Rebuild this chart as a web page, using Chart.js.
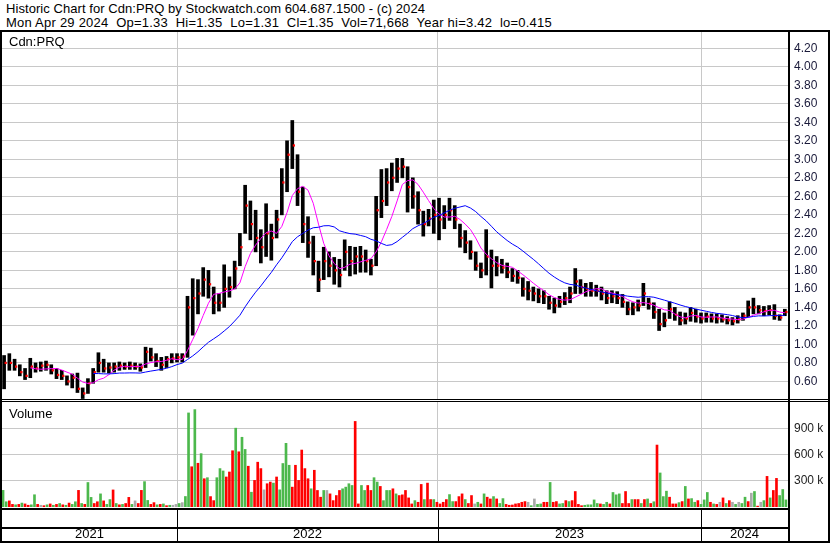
<!DOCTYPE html>
<html>
<head>
<meta charset="utf-8">
<script src="https://cdn.jsdelivr.net/npm/chart.js@4.4.1/dist/chart.umd.min.js"></script>
<style>
  body { margin: 0; background: #fff; }
  #wrap { position: relative; width: 830px; height: 543px; overflow: hidden; font-family: 'Liberation Sans', Arial, sans-serif; }
  .txt { position: absolute; font-size: 13px; line-height: 15px; color: #000; white-space: pre; }
  .ln { position: absolute; background: #000; }
  canvas { position: absolute; }
</style>
</head>
<body>
<div id="wrap">
  <div class="txt" id="head1" style="left:6px; top:1px;">Historic Chart for Cdn:PRQ by Stockwatch.com 604.687.1500 - (c) 2024</div>
  <div class="txt" id="head2" style="left:6px; top:15px;">Mon Apr 29 2024  Op=1.33  Hi=1.35  Lo=1.31  Cl=1.35  Vol=71,668  Year hi=3.42  lo=0.415</div>

  <canvas id="price" width="828" height="367" style="left:2px; top:32px;"></canvas>
  <canvas id="volume" width="828" height="141" style="left:2px; top:402px;"></canvas>

  <div class="txt" style="left:9px; top:34px;">Cdn:PRQ</div>
  <div class="txt" style="left:9px; top:406px;">Volume</div>

  <div class="ln" style="left:0; top:30px; width:830px; height:2px;"></div>
  <div class="ln" style="left:0; top:30px; width:2px; height:513px;"></div>
  <div class="ln" style="left:828px; top:30px; width:2px; height:513px;"></div>
  <div class="ln" style="left:788px; top:30px; width:2px; height:513px;"></div>
  <div class="ln" style="left:0; top:399px; width:830px; height:1px;"></div>
  <div class="ln" style="left:0; top:401px; width:830px; height:1px;"></div>
  <div class="ln" style="left:0; top:541px; width:830px; height:2px;"></div>
</div>

<script>
// x axis is trading-day index, 0 .. 750
const yearLabels = ['2021', '2022', '2023', '2024'];
const yearStarts = [0, 167, 416, 667, 750];

const priceTicks = [0.6, 0.8, 1.0, 1.2, 1.4, 1.6, 1.8, 2.0, 2.2, 2.4, 2.6, 2.8, 3.0, 3.2, 3.4, 3.6, 3.8, 4.0, 4.2];
const volTicks = [300000, 600000, 900000];

// weekly high / low / close (5 trading days each)
const weekHigh = [
  0.88, 0.90, 0.84, 0.78, 0.74, 0.85, 0.80, 0.81, 0.82, 0.78,
  0.74, 0.72, 0.66, 0.68, 0.69, 0.53, 0.63, 0.74, 0.91, 0.84,
  0.80, 0.80, 0.81, 0.80, 0.81, 0.80, 0.79, 0.97, 0.96, 0.90,
  0.86, 0.87, 0.90, 0.90, 0.90, 1.52, 1.71, 1.70, 1.83, 1.80,
  1.62, 1.55, 1.86, 1.73, 1.90, 2.20, 2.72, 2.55, 2.45, 2.24,
  2.52, 2.30, 2.45, 2.90, 3.20, 3.42, 3.05, 2.70, 2.38, 2.17,
  1.90, 2.05, 2.00, 1.94, 1.92, 2.13, 2.06, 2.05, 2.06, 2.02,
  1.92, 2.60, 2.89, 2.90, 2.96, 3.01, 3.01, 2.92, 2.80, 2.65,
  2.44, 2.46, 2.56, 2.58, 2.50, 2.58, 2.50, 2.30, 2.23, 2.12,
  2.00, 1.88, 2.24, 2.02, 1.95, 1.92, 1.88, 1.82, 1.80, 1.72,
  1.68, 1.62, 1.60, 1.58, 1.52, 1.50, 1.52, 1.56, 1.62, 1.82,
  1.70, 1.66, 1.67, 1.64, 1.62, 1.58, 1.58, 1.57, 1.54, 1.46,
  1.45, 1.48, 1.66, 1.50, 1.45, 1.38, 1.34, 1.46, 1.40, 1.35,
  1.34, 1.40, 1.38, 1.34, 1.34, 1.33, 1.33, 1.32, 1.30, 1.29,
  1.31, 1.34, 1.47, 1.50, 1.42, 1.41, 1.42, 1.43, 1.32, 1.38
];
const weekLow = [
  0.52, 0.72, 0.72, 0.66, 0.62, 0.64, 0.70, 0.71, 0.72, 0.68,
  0.63, 0.62, 0.56, 0.53, 0.48, 0.415, 0.47, 0.58, 0.70, 0.70,
  0.69, 0.70, 0.72, 0.73, 0.73, 0.73, 0.71, 0.75, 0.82, 0.76,
  0.72, 0.75, 0.80, 0.81, 0.81, 0.86, 1.10, 1.33, 1.52, 1.50,
  1.33, 1.36, 1.40, 1.51, 1.60, 1.85, 2.20, 2.13, 2.00, 1.88,
  1.95, 1.91, 2.15, 2.40, 2.65, 2.90, 2.50, 2.10, 1.94, 1.75,
  1.57, 1.70, 1.73, 1.65, 1.62, 1.80, 1.74, 1.76, 1.78, 1.78,
  1.75, 1.85, 2.37, 2.50, 2.66, 2.75, 2.80, 2.43, 2.47, 2.30,
  2.17, 2.28, 2.20, 2.13, 2.25, 2.34, 2.25, 2.05, 1.99, 1.92,
  1.80, 1.72, 1.75, 1.61, 1.74, 1.77, 1.72, 1.68, 1.66, 1.52,
  1.48, 1.47, 1.45, 1.44, 1.38, 1.34, 1.40, 1.43, 1.45, 1.55,
  1.55, 1.52, 1.52, 1.52, 1.48, 1.44, 1.45, 1.44, 1.40, 1.32,
  1.32, 1.36, 1.42, 1.38, 1.28, 1.15, 1.19, 1.28, 1.26, 1.21,
  1.22, 1.25, 1.24, 1.23, 1.24, 1.24, 1.23, 1.24, 1.22, 1.21,
  1.23, 1.26, 1.30, 1.33, 1.33, 1.31, 1.32, 1.27, 1.26, 1.31
];
const weekClose = [
  0.80, 0.80, 0.76, 0.70, 0.66, 0.76, 0.74, 0.77, 0.78, 0.72,
  0.67, 0.66, 0.60, 0.64, 0.52, 0.47, 0.58, 0.70, 0.80, 0.74,
  0.75, 0.76, 0.77, 0.76, 0.77, 0.76, 0.75, 0.92, 0.86, 0.82,
  0.78, 0.84, 0.85, 0.86, 0.87, 1.40, 1.50, 1.55, 1.70, 1.65,
  1.45, 1.45, 1.60, 1.62, 1.82, 2.05, 2.50, 2.30, 2.15, 2.05,
  2.20, 2.15, 2.35, 2.75, 3.05, 3.15, 2.65, 2.30, 2.10, 1.90,
  1.70, 1.90, 1.85, 1.80, 1.75, 2.00, 1.90, 1.95, 1.95, 1.90,
  1.85, 2.45, 2.55, 2.75, 2.80, 2.90, 2.92, 2.70, 2.60, 2.45,
  2.30, 2.36, 2.40, 2.35, 2.40, 2.45, 2.35, 2.15, 2.10, 2.00,
  1.85, 1.80, 1.95, 1.85, 1.85, 1.83, 1.78, 1.74, 1.72, 1.60,
  1.58, 1.55, 1.52, 1.52, 1.45, 1.42, 1.46, 1.50, 1.55, 1.68,
  1.62, 1.60, 1.58, 1.58, 1.55, 1.50, 1.52, 1.50, 1.46, 1.38,
  1.40, 1.42, 1.55, 1.44, 1.35, 1.22, 1.26, 1.38, 1.32, 1.26,
  1.28, 1.34, 1.30, 1.28, 1.30, 1.28, 1.28, 1.27, 1.26, 1.25,
  1.27, 1.31, 1.40, 1.40, 1.37, 1.36, 1.37, 1.31, 1.29, 1.35
];

// volume in thousands, one bar per 3 trading days; g = up, r = down, n = unchanged
const volK = [
  190, 60, 70, 30, 25, 30, 45, 35, 20, 25,
  140, 30, 20, 15, 25, 35, 20, 30, 40, 25,
  20, 45, 30, 60, 190, 40, 30, 280, 110, 40,
  60, 150, 70, 30, 85, 195, 40, 25, 30, 40,
  110, 30, 70, 40, 190, 290, 75, 30, 50, 25,
  30, 35, 15, 20, 20, 30, 40, 50, 120, 1075,
  460, 1113, 500, 610, 323, 335, 119, 73, 335, 439,
  412, 343, 400, 643, 901, 631, 797, 658, 466, 169,
  304, 512, 439, 196, 266, 285, 273, 343, 196, 497,
  728, 477, 227, 477, 304, 651, 439, 323, 208, 420,
  189, 112, 189, 189, 150, 73, 131, 189, 208, 227,
  266, 246, 978, 35, 246, 189, 246, 189, 335, 285,
  235, 73, 189, 189, 208, 150, 131, 139, 189, 104,
  35, 73, 54, 258, 85, 273, 85, 85, 54, 35,
  54, 85, 142, 62, 62, 119, 150, 85, 40, 131,
  35, 54, 35, 150, 112, 92, 119, 92, 40, 96,
  30, 20, 23, 35, 40, 54, 62, 54, 15, 92,
  30, 35, 54, 54, 281, 54, 62, 35, 40, 73,
  62, 73, 177, 30, 15, 20, 25, 25, 81, 40,
  35, 30, 54, 35, 166, 139, 150, 40, 177, 40,
  85, 85, 85, 40, 85, 92, 40, 60, 708, 389,
  119, 181, 112, 35, 35, 50, 62, 235, 92, 96,
  54, 73, 30, 81, 166, 54, 35, 30, 54, 104,
  40, 73, 54, 30, 54, 40, 112, 62, 158, 177,
  10, 54, 73, 350, 104, 189, 327, 131, 200, 81
];
const volDir = (
  'ggrrgrgrrg' + 'grnrgrgrgr' + 'grggrgrggr' + 'rgrggrgrgr' + 'rgnrrggrrg' +
  'rgrgnngngg' + 'rgrgrgrrgg' + 'grrrgrggrg' + 'rrrnrrgrgg' + 'ggrrrrrrgr' +
  'rrgnrrrrgg' + 'ggrrggrrgg' + 'rgggrgrrrr' + 'rgrrgrrgrr' + 'rrggrrrgrr' +
  'ngrgrrgrgg' + 'rrrrrrrngn' + 'ggrrgrrggr' + 'grrrrggggg' + 'rggrgggrrr' +
  'grrgrgrgrg' + 'ggrrrgrgrg' + 'grgggrgrnr' + 'grngnggrng' + 'rngrgrrggg'
).split('');

const colorOf = { g: '#4cb84c', r: '#ff0000', n: '#aaaaaa' };

// stretch the two header lines to the width they have in the original
function fitWidth(id, target) {
  const el = document.getElementById(id);
  const w = el.getBoundingClientRect().width;
  el.style.letterSpacing = ((target - w) / el.textContent.length) + 'px';
}
fitWidth('head1', 419);
fitWidth('head2', 546);

const weekDay = weekClose.map((c, w) => w * 5 + 2);

function sma(values, n) {
  const out = [];
  for (let i = n - 1; i < values.length; i++) {
    let s = 0;
    for (let k = i - n + 1; k <= i; k++) s += values[k];
    out.push({ x: weekDay[i], y: s / n });
  }
  return out;
}

const rangePts = weekDay.map((d, w) => ({ x: d, y: [weekLow[w], weekHigh[w]] }));
const closePts = weekDay.map((d, w) => ({ x: d + 1.5, y: weekClose[w] }));
const volPts = volK.map((v, i) => ({ x: i * 3 + 1, y: v * 1000 }));
const volColors = volDir.map(c => colorOf[c]);

const font12 = { family: "'Liberation Sans', Arial, sans-serif", size: 12 };
const font13 = { family: "'Liberation Sans', Arial, sans-serif", size: 13 };

// no extra room for the first/last tick label, the plot fills the panel
function noPad(s) {
  s.paddingTop = 0; s.paddingBottom = 0; s.paddingLeft = 0; s.paddingRight = 0;
}

function yearGridAxis() {
  return {
    type: 'linear', min: 0, max: 750, offset: false,
    grid: { color: '#c8c8c8', drawTicks: false, offset: false },
    border: { display: false },
    ticks: { display: false },
    afterBuildTicks: s => { s.ticks = yearStarts.slice(1, 4).map(v => ({ value: v })); },
    afterFit: s => { s.height = 0; noPad(s); }
  };
}

new Chart(document.getElementById('price'), {
  type: 'bar',
  data: {
    datasets: [
      { type: 'line', data: sma(weekClose, 18), borderColor: '#0000ff', borderWidth: 1, pointRadius: 0, order: 0 },
      { type: 'line', data: sma(weekClose, 6), borderColor: '#ff00ff', borderWidth: 1, pointRadius: 0, order: 1 },
      { type: 'line', data: closePts, showLine: false, pointStyle: 'rect', pointRadius: 1.6, backgroundColor: '#ff0000', borderWidth: 0, order: 2 },
      { data: rangePts, backgroundColor: '#000000', barThickness: 3, grouped: false, order: 3 }
    ]
  },
  options: {
    responsive: false,
    animation: false,
    devicePixelRatio: 1,
    events: [],
    layout: { padding: 0, autoPadding: false },
    plugins: { legend: { display: false }, tooltip: { enabled: false } },
    scales: {
      x: yearGridAxis(),
      y: {
        position: 'right', min: 0.41, max: 4.376,
        grid: { color: '#c8c8c8', drawTicks: false },
        border: { display: false },
        ticks: { padding: 6, color: '#1a1a3a', font: font12, autoSkip: false, callback: v => v.toFixed(2) },
        afterBuildTicks: s => { s.ticks = priceTicks.map(v => ({ value: v })); },
        afterFit: s => { s.width = 42; noPad(s); }
      }
    }
  }
});

// lines of the empty row and the year row under the volume panel
const rowLines = {
  id: 'rowLines',
  afterDraw(chart) {
    const ctx = chart.ctx;
    const a = chart.chartArea;
    const xs = chart.scales.x;
    ctx.save();
    ctx.fillStyle = '#000';
    ctx.fillRect(0, a.bottom + 1, a.right, 2);
    ctx.fillRect(0, a.bottom + 20, a.right, 2);
    yearStarts.slice(1, 4).forEach(d => {
      const px = Math.round(xs.getPixelForValue(d));
      ctx.fillRect(px, a.bottom + 1, 1, 36);
    });
    ctx.restore();
  }
};

new Chart(document.getElementById('volume'), {
  type: 'bar',
  data: {
    datasets: [
      { data: volPts, backgroundColor: volColors, barThickness: 2, grouped: false, xAxisID: 'x' }
    ]
  },
  options: {
    responsive: false,
    animation: false,
    devicePixelRatio: 1,
    events: [],
    layout: { padding: 0, autoPadding: false },
    plugins: { legend: { display: false }, tooltip: { enabled: false } },
    scales: {
      x: yearGridAxis(),
      x2: {
        type: 'linear', position: 'bottom', min: 0, max: 750, offset: false,
        grid: { display: false, drawTicks: false },
        border: { display: false },
        ticks: { padding: 20, color: '#000', font: font13, autoSkip: false, maxRotation: 0,
                 callback: (v, i) => yearLabels[i] },
        afterBuildTicks: s => {
          s.ticks = yearLabels.map((y, i) => ({ value: (yearStarts[i] + yearStarts[i + 1]) / 2 }));
        },
        afterFit: s => { s.height = 36; noPad(s); }
      },
      y: {
        position: 'right', min: 0, max: 1200000,
        grid: { color: '#c8c8c8', drawTicks: false },
        border: { display: false },
        ticks: { padding: 6, color: '#222', font: font12, autoSkip: false, callback: v => (v / 1000) + ' k' },
        afterBuildTicks: s => { s.ticks = volTicks.map(v => ({ value: v })); },
        afterFit: s => { s.width = 42; noPad(s); }
      }
    }
  },
  plugins: [rowLines]
});
</script>
</body>
</html>
